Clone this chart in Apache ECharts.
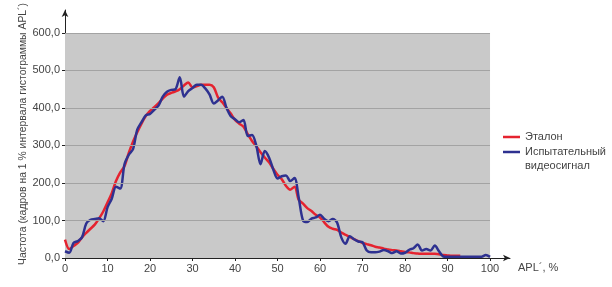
<!DOCTYPE html>
<html>
<head>
<meta charset="utf-8">
<script src="https://cdn.jsdelivr.net/npm/echarts@6/dist/echarts.min.js"></script>
<style>html,body{margin:0;padding:0;background:#fff}#c{width:612px;height:287px}</style>
</head>
<body>
<div id="c"></div>
<script>
const xTicks = [0,10,20,30,40,50,60,70,80,90,100];
const yTicks = [0,100,200,300,400,500,600];
const seriesNames = ['Эталон', 'Испытательный\nвидеосигнал'];
// Эталон, APL 0..93 %
const etalon = [49,24,32,40,55,67,78,89,105,124,148,173,205,228,245,280,310,335,358,378,
  392,402,413,425,435,440,444,450,460,468,455,458,462,462,462,455,428,415,400,385,
  368,358,350,330,312,298,282,268,255,238,222,210,192,182,190,155,145,133,125,115,
  108,95,83,78,75,68,62,56,50,45,40,37,34,30,28,25,23,21,20,18,
  16,15,13,12,11,11,11,11,10,8,7,6,6,6];
// Испытательный видеосигнал, APL 0..100 %
const test = [18,14,40,45,55,92,102,104,106,98,135,158,190,185,250,275,290,342,362,380,
  384,395,406,430,443,448,450,482,430,445,453,462,462,452,436,412,420,430,400,378,
  370,362,368,325,328,300,250,285,268,236,212,218,220,205,213,160,100,96,105,108,
  115,104,98,104,95,55,38,58,50,44,42,20,15,15,17,21,18,13,18,12,
  14,22,26,36,20,24,20,33,18,4,3,3,3,3,3,3,3,3,3,8,3];

const toPairs = arr => arr.map((v,i)=>[i,v]);
const font = 'Liberation Sans, Arial, sans-serif';
const legendText = {color:'#444',fontSize:11,fontFamily:font,lineHeight:14};
const chart = echarts.init(document.getElementById('c'));
chart.setOption({
  animation:false,
  backgroundColor:'#fff',
  grid:{left:65,right:102,top:10,bottom:29,containLabel:false,outerBoundsMode:'none'},
  xAxis:{type:'value',min:0,max:104.7,interval:10,
    name:'APL´, %',nameLocation:'end',nameGap:8,
    nameTextStyle:{color:'#444',fontSize:11,fontFamily:font,verticalAlign:'top',lineHeight:20},
    axisLine:{lineStyle:{color:'#222',width:1},symbol:['none','arrow'],symbolSize:[5,7]},
    axisTick:{show:true,length:3,lineStyle:{color:'#222'},customValues:xTicks},
    axisLabel:{color:'#444',fontSize:11,fontFamily:font,margin:5,customValues:xTicks,
      formatter:v=> xTicks.includes(v)? String(v):''},
    splitLine:{show:false}},
  yAxis:{type:'value',min:0,max:661,interval:100,
    name:'Частота (кадров на 1 % интервала гистограммы APL´)',nameLocation:'middle',nameGap:37,
    nameMoveOverlap:false,
    nameTextStyle:{color:'#444',fontSize:10.4,fontFamily:font},
    axisLine:{show:true,lineStyle:{color:'#222',width:1},symbol:['none','arrow'],symbolSize:[5,7]},
    axisTick:{show:true,length:3,lineStyle:{color:'#222'},customValues:yTicks},
    axisLabel:{color:'#444',fontSize:11,fontFamily:font,margin:5,customValues:yTicks,
      formatter:v=> yTicks.includes(v)? v.toFixed(1).replace('.',','):''},
    splitLine:{show:false}},
  legend:[
    {data:[seriesNames[0]],left:503,top:130,padding:0,orient:'vertical',icon:'rect',itemWidth:17,itemHeight:2.5,itemGap:7,
      textStyle:legendText},
    {data:[seriesNames[1]],left:503,top:131,padding:0,orient:'vertical',icon:'rect',itemWidth:17,itemHeight:2.5,itemGap:7,
      formatter:n=>' \n'+n, textStyle:legendText}
  ],
  series:[
    {type:'line',name:'bg',data:[[0,0]],showSymbol:false,lineStyle:{opacity:0},silent:true,z:1,
      markArea:{silent:true,itemStyle:{color:'#c9c9c9'},data:[[{coord:[xTicks[0],yTicks[0]]},{coord:[xTicks[xTicks.length-1],yTicks[yTicks.length-1]]}]]},
      markLine:{silent:true,symbol:'none',label:{show:false},lineStyle:{color:'#a3a3a3',type:'solid',width:1},
        data:yTicks.slice(1).map(v=>[{coord:[xTicks[0],v]},{coord:[xTicks[xTicks.length-1],v]}])}},
    {type:'line',name:seriesNames[0],data:toPairs(etalon),showSymbol:false,smooth:0.3,z:3,
      lineStyle:{color:'#e5232f',width:2.5},itemStyle:{color:'#e5232f'}},
    {type:'line',name:seriesNames[1],data:toPairs(test),showSymbol:false,smooth:0.3,z:4,
      lineStyle:{color:'#2e3190',width:2.5},itemStyle:{color:'#2e3190'}}
  ]
});
</script>
</body>
</html>
